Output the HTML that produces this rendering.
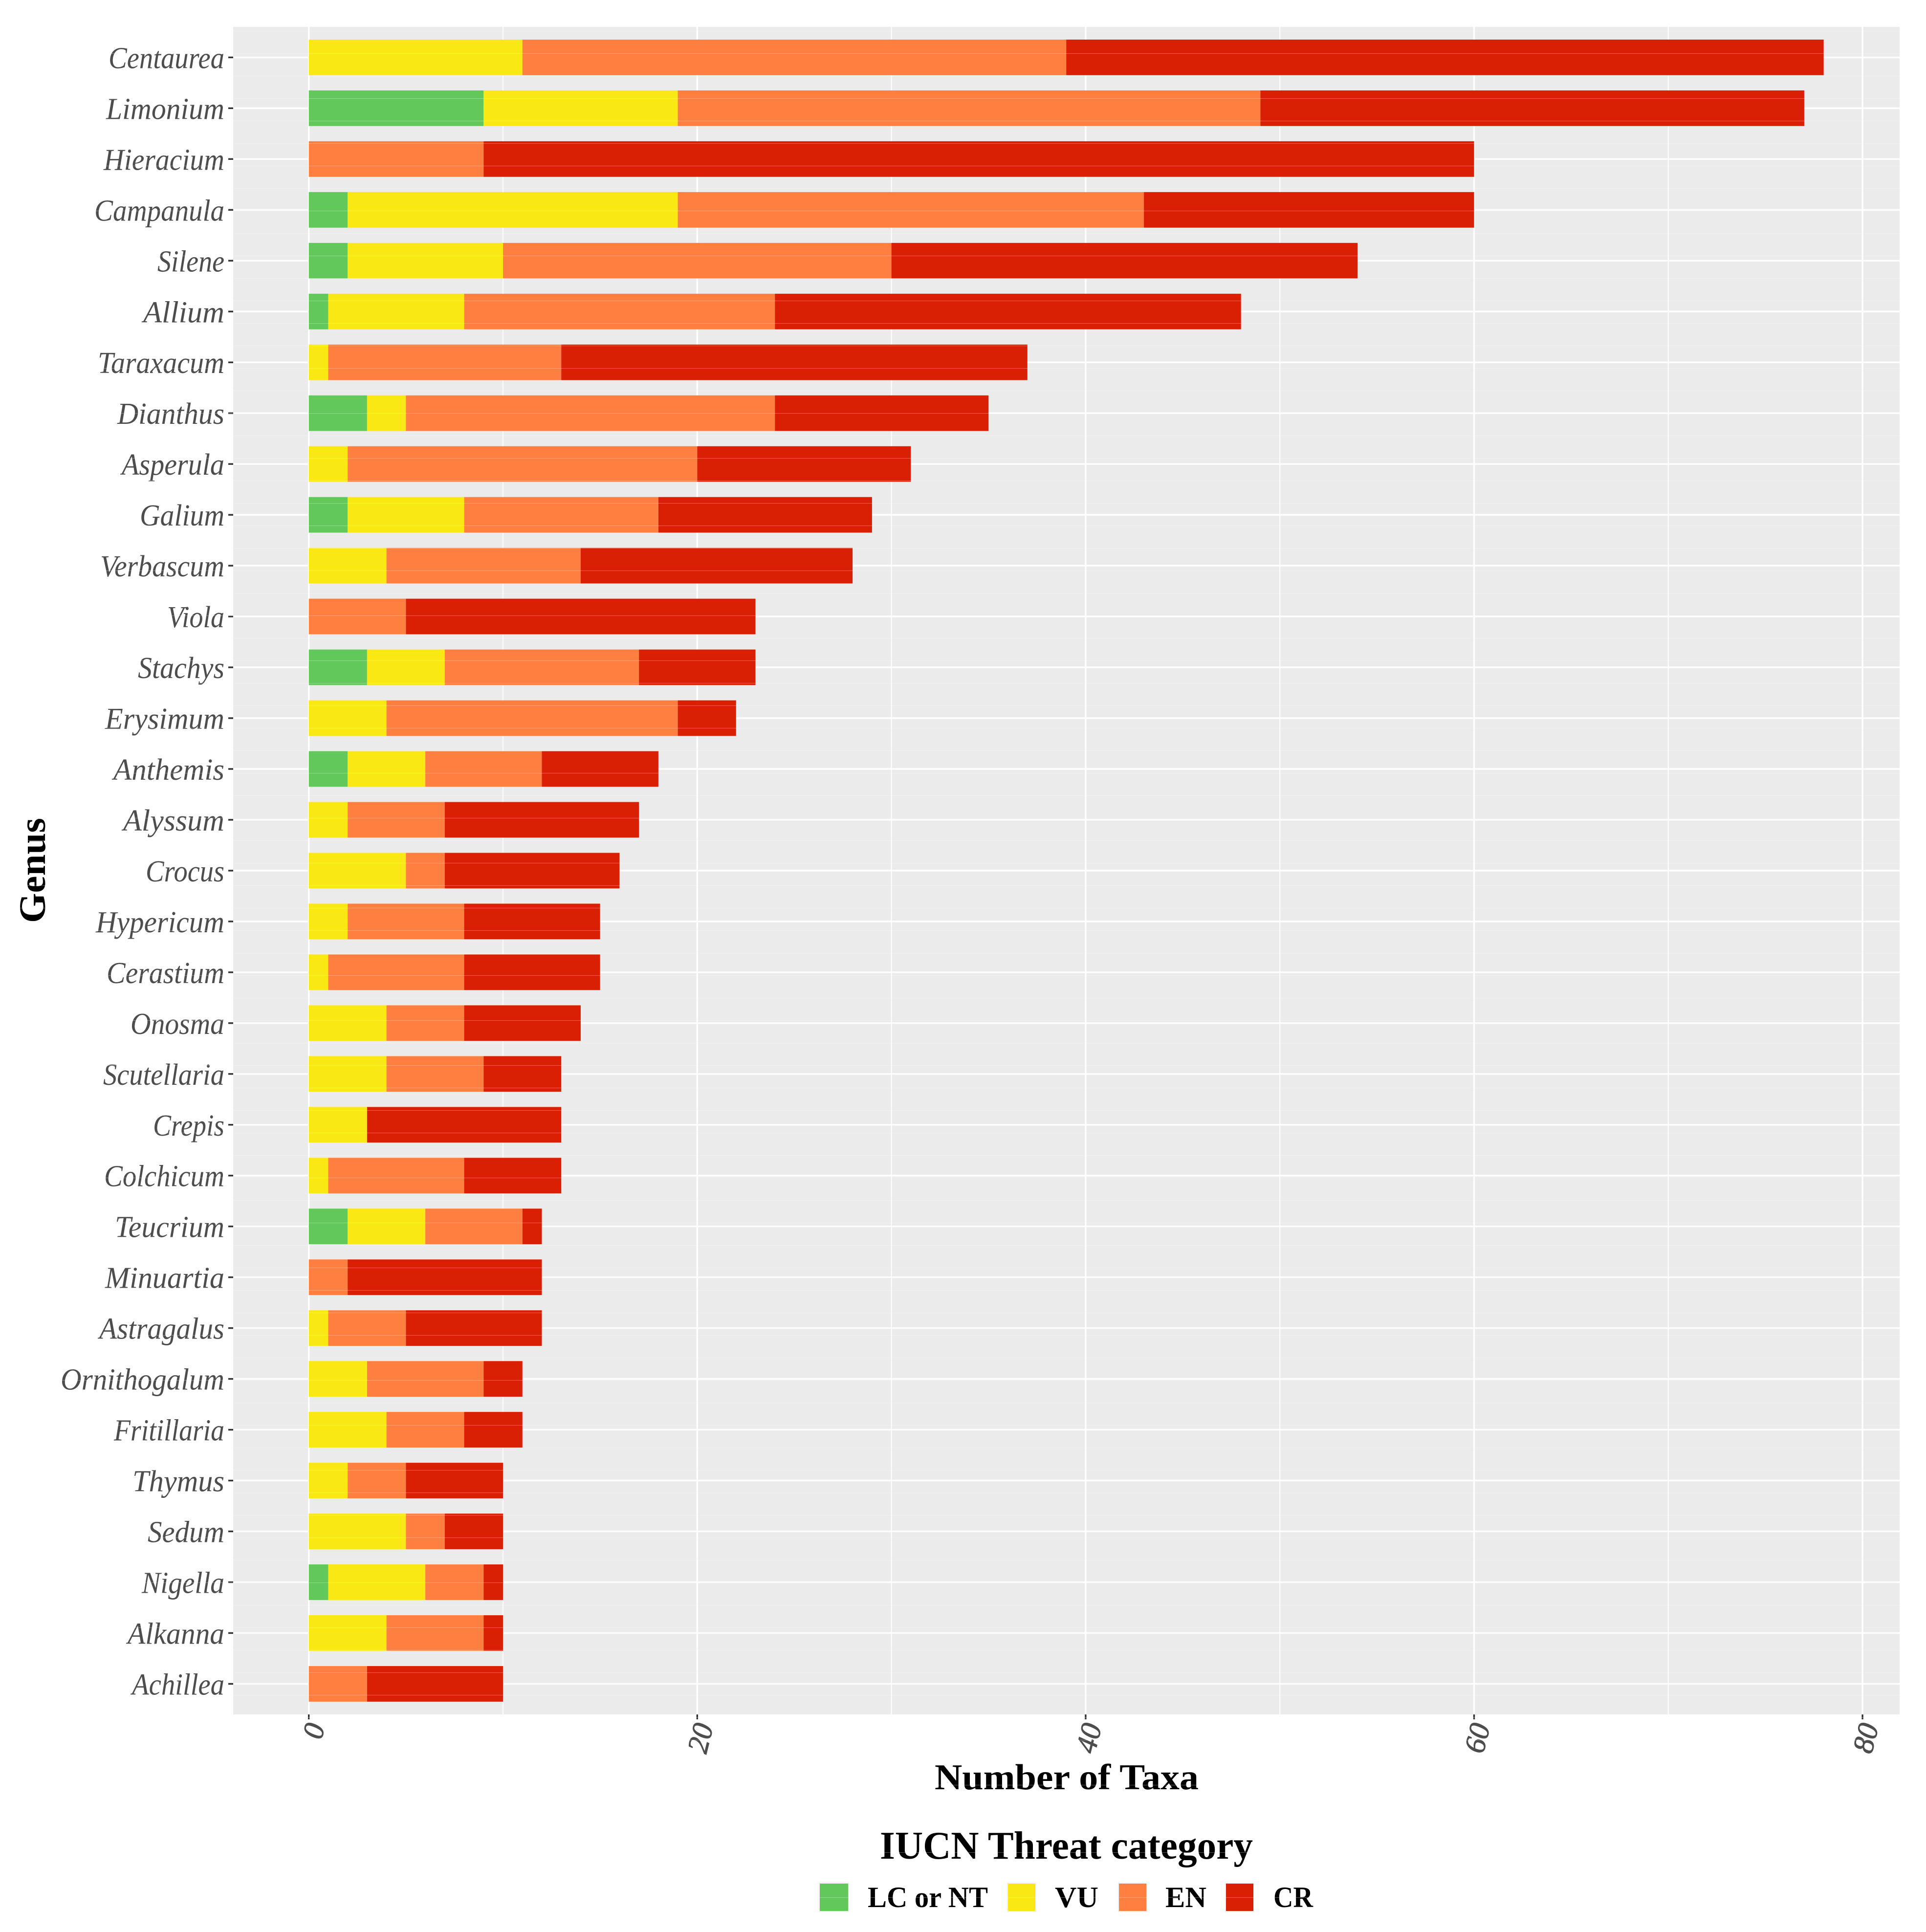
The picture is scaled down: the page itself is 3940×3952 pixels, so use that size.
<!DOCTYPE html>
<html lang="en">
<head>
<meta charset="utf-8">
<title>Threatened taxa by genus</title>
<style>
html,body{margin:0;padding:0;background:#fff;}
svg{display:block;}
text{font-family:"Liberation Serif",serif;}
</style>
</head>
<body>
<svg id="chart" xmlns="http://www.w3.org/2000/svg" width="3940" height="3952" viewBox="0 0 3940 3952">
  <rect x="0" y="0" width="3940" height="3952" fill="#ffffff"/>
  <rect x="477" y="55" width="3409" height="3452" fill="#ebebeb"/>
  <g id="grid"></g>
  <g id="bars"></g>
  <g id="yaxis"></g>
  <g id="xaxis"></g>
  <text x="1912" y="3660" font-size="74" font-weight="bold" fill="#000" textLength="540" lengthAdjust="spacingAndGlyphs">Number of Taxa</text>
  <text transform="translate(92,1888) rotate(-90)" font-size="76" font-weight="bold" fill="#000" textLength="215" lengthAdjust="spacingAndGlyphs">Genus</text>
  <text x="1800" y="3802" font-size="80" font-weight="bold" fill="#000" textLength="763" lengthAdjust="spacingAndGlyphs">IUCN Threat category</text>
  <g>
    <g>
      <rect x="1675" y="3851" width="62" height="60" fill="#f2f2f2"/>
      <rect x="1677" y="3853" width="58" height="56" fill="#62c85c"/>
      <text x="1775" y="3901" font-size="60" font-weight="bold" fill="#000" textLength="246" lengthAdjust="spacingAndGlyphs">LC or NT</text>
    </g>
    <g>
      <rect x="2060" y="3851" width="60" height="60" fill="#f2f2f2"/>
      <rect x="2062" y="3853" width="56" height="56" fill="#f9e814"/>
      <text x="2158" y="3901" font-size="60" font-weight="bold" fill="#000" textLength="89" lengthAdjust="spacingAndGlyphs">VU</text>
    </g>
    <g>
      <rect x="2287" y="3851" width="60" height="60" fill="#f2f2f2"/>
      <rect x="2289" y="3853" width="56" height="56" fill="#ff7f40"/>
      <text x="2384" y="3901" font-size="60" font-weight="bold" fill="#000" textLength="84" lengthAdjust="spacingAndGlyphs">EN</text>
    </g>
    <g>
      <rect x="2506" y="3851" width="60" height="60" fill="#f2f2f2"/>
      <rect x="2508" y="3853" width="56" height="56" fill="#d92005"/>
      <text x="2605" y="3901" font-size="60" font-weight="bold" fill="#000" textLength="81" lengthAdjust="spacingAndGlyphs">CR</text>
    </g>
  </g>
  <g id="seams"></g>
</svg>
<script>
const genera = ["Centaurea","Limonium","Hieracium","Campanula","Silene","Allium","Taraxacum","Dianthus","Asperula","Galium","Verbascum","Viola","Stachys","Erysimum","Anthemis","Alyssum","Crocus","Hypericum","Cerastium","Onosma","Scutellaria","Crepis","Colchicum","Teucrium","Minuartia","Astragalus","Ornithogalum","Fritillaria","Thymus","Sedum","Nigella","Alkanna","Achillea"];
const lcNt = [0,9,0,2,2,1,0,3,0,2,0,0,3,0,2,0,0,0,0,0,0,0,0,2,0,0,0,0,0,0,1,0,0];
const vu   = [11,10,0,17,8,7,1,2,2,6,4,0,4,4,4,2,5,2,1,4,4,3,1,4,0,1,3,4,2,5,5,4,0];
const en   = [28,30,9,24,20,16,12,19,18,10,10,5,10,15,6,5,2,6,7,4,5,0,7,5,2,4,6,4,3,2,3,5,3];
const cr   = [39,28,51,17,24,24,24,11,11,11,14,18,6,3,6,10,9,7,7,6,4,10,5,1,10,7,2,3,5,3,1,1,7];
const xMajorTicks = [0,20,40,60,80];
const xMinorTicks = [10,30,50,70];

// Typeset widths of the genus labels, so the substitute font occupies the same space.
const genusLabelWidths = {Centaurea:237,Limonium:242,Hieracium:247,Campanula:266,Silene:137,Allium:166,Taraxacum:259,Dianthus:219,Asperula:210,Galium:173,Verbascum:254,Viola:117,Stachys:177,Erysimum:244,Anthemis:227,Alyssum:207,Crocus:161,Hypericum:263,Cerastium:241,Onosma:192,Scutellaria:248,Crepis:146,Colchicum:246,Teucrium:224,Minuartia:244,Astragalus:256,Ornithogalum:335,Fritillaria:226,Thymus:188,Sedum:157,Nigella:169,Alkanna:198,Achillea:189};

const NS = "http://www.w3.org/2000/svg";
const PANEL = {left:477, right:3886, top:55, bottom:3507};
const xScale = v => 631.7 + v * 39.73;
const yScale = i => 117.4 + i * 103.97;
const BAR_H = 72.8;
const LABEL_RIGHT = 459;

function make(tag, attrs, parent) {
  const el = document.createElementNS(NS, tag);
  for (const k in attrs) el.setAttribute(k, attrs[k]);
  parent.appendChild(el);
  return el;
}

const grid = document.getElementById("grid");
xMinorTicks.forEach(v => {
  const l = make("line", {x1:xScale(v), x2:xScale(v), y1:PANEL.top, y2:PANEL.bottom, stroke:"#ffffff", "stroke-width":2}, grid);
  
  
});
xMajorTicks.forEach(v => {
  const l = make("line", {x1:xScale(v), x2:xScale(v), y1:PANEL.top, y2:PANEL.bottom, stroke:"#ffffff", "stroke-width":3.4}, grid);
  
  
});
genera.forEach((g, i) => {
  const l = make("line", {x1:PANEL.left, x2:PANEL.right, y1:yScale(i), y2:yScale(i), stroke:"#ffffff", "stroke-width":3.4}, grid);
  
  
});

const barsGroup = document.getElementById("bars");
const seriesList = [
  {key:"lc-or-nt", values:lcNt, color:"#62c85c"},
  {key:"vu", values:vu, color:"#f9e814"},
  {key:"en", values:en, color:"#ff7f40"},
  {key:"cr", values:cr, color:"#d92005"}
];
genera.forEach((g, i) => {
  let acc = 0;
  seriesList.forEach(s => {
    const v = s.values[i];
    if (v > 0) {
      const r = make("rect", {x:xScale(acc), y:yScale(i) - BAR_H / 2, width:xScale(acc + v) - xScale(acc), height:BAR_H, fill:s.color}, barsGroup);
      
      
      r.setAttribute('data-series', s.key);
      r.setAttribute('data-genus', g);
    }
    acc += v;
  });
});

const yAxis = document.getElementById("yaxis");
genera.forEach((g, i) => {
  const tick = make("line", {x1:467, x2:PANEL.left, y1:yScale(i), y2:yScale(i), stroke:"#333333", "stroke-width":3.4}, yAxis);
  
  
  const w = genusLabelWidths[g];
  const t = make("text", {x:LABEL_RIGHT - w, y:yScale(i) + 22, "font-size":62, "font-style":"italic", fill:"#4d4d4d", textLength:w, lengthAdjust:"spacingAndGlyphs"}, yAxis);
  
  
  t.textContent = g;
});

const xAxis = document.getElementById("xaxis");
xMajorTicks.forEach(v => {
  const tick = make("line", {x1:xScale(v), x2:xScale(v), y1:PANEL.bottom, y2:3517, stroke:"#333333", "stroke-width":3.4}, xAxis);
  
  
  const t = make("text", {transform:"translate(" + (xScale(v) + 33) + ",3531) rotate(-76)", "text-anchor":"end", "font-size":60, "font-style":"italic", fill:"#4d4d4d", stroke:"#4d4d4d", "stroke-width":1}, xAxis);
  
  
  t.textContent = String(v);
});

const seams = document.getElementById("seams");
for (let sy = 63; sy < 3952; sy += 46) {
  const s = make("rect", {x:0, y:sy, width:3940, height:1, fill:"#ffffff", "fill-opacity":0.33}, seams);
  
  
}
</script>
</body>
</html>
